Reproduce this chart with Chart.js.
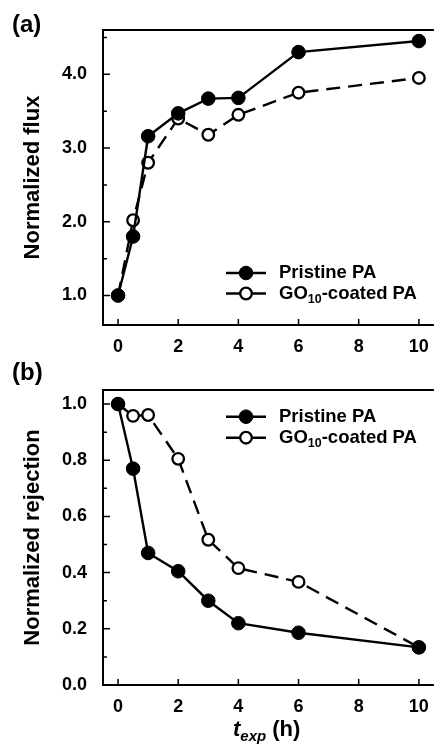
<!DOCTYPE html>
<html><head><meta charset="utf-8">
<script src="https://cdn.jsdelivr.net/npm/chart.js@4.4.1/dist/chart.umd.min.js"></script>
<style>
html,body{margin:0;padding:0;background:#fff;overflow:hidden;width:440px;height:748px}
#wa{position:absolute;left:0;top:0;width:442px;height:355px}
#wb{position:absolute;left:0;top:355px;width:442px;height:393px}
</style></head><body>
<div id="wa"><canvas id="ca"></canvas></div>
<div id="wb"><canvas id="cb"></canvas></div>
<script>
// ---- data ----
const timeH        = [0, 0.5, 1, 2, 3, 4, 6, 10];
const fluxPristine = [1.00, 1.80, 3.16, 3.47, 3.67, 3.68, 4.30, 4.45];
const fluxGO       = [1.00, 2.02, 2.80, 3.40, 3.18, 3.45, 3.75, 3.95];
const rejPristine  = [1.00, 0.77, 0.47, 0.405, 0.30, 0.22, 0.186, 0.134];
const rejGO        = [1.00, 0.958, 0.961, 0.805, 0.517, 0.416, 0.367, 0.134];
const xTicks       = [0, 2, 4, 6, 8, 10];
const yTicksFlux   = [1, 2, 3, 4];
const yMinorFlux   = [1.5, 2.5, 3.5, 4.5];
const yTicksRej    = [0, 0.2, 0.4, 0.6, 0.8, 1.0];
const yMinorRej    = [0.1, 0.3, 0.5, 0.7, 0.9];
const seriesNames  = ['Pristine PA', 'GO_{10}-coated PA'];
const yTitleFlux   = 'Normalized flux';
const yTitleRej    = 'Normalized rejection';
const xTitle       = 't_{exp} (h)';

const FONT = 'Arial, "Liberation Sans", sans-serif';

function richParts(text){
  const parts = []; const re = /_\{([^}]*)\}/g; let last = 0, m;
  while ((m = re.exec(text))){ if (m.index > last) parts.push([text.slice(last, m.index), false]); parts.push([m[1], true]); last = re.lastIndex; }
  if (last < text.length) parts.push([text.slice(last), false]);
  return parts;
}
function drawRich(ctx, text, x, y, mainFont, subFont, subDrop, firstFont){
  let cx = x;
  richParts(text).forEach(([s, sub], i) => {
    ctx.font = sub ? subFont : (i === 0 && firstFont ? firstFont : mainFont);
    ctx.fillText(s, cx, y + (sub ? subDrop : 0));
    cx += ctx.measureText(s).width;
  });
}

function makeChart(id, opt){
  const ds = (vals, open) => ({
    data: timeH.map((t, i) => ({x: t, y: vals[i]})),
    borderColor: '#000', backgroundColor: open ? '#fff' : '#000',
    borderWidth: 2.4, borderDash: open ? [14, 8] : [],
    pointRadius: open ? 5.8 : 6.8, pointBorderWidth: open ? 2.3 : 1,
    pointBackgroundColor: open ? '#fff' : '#000', pointBorderColor: '#000',
    tension: 0, clip: false
  });
  const framePlugin = {
    id: 'frame',
    afterDraw(chart){
      const ctx = chart.ctx, a = chart.chartArea, xs = chart.scales.x, ys = chart.scales.y;
      ctx.save();
      ctx.strokeStyle = '#000'; ctx.lineWidth = 2;
      ctx.beginPath();
      ctx.moveTo(a.right, a.top); ctx.lineTo(a.left, a.top); ctx.lineTo(a.left, a.bottom); ctx.lineTo(a.right, a.bottom);
      ctx.stroke();
      ctx.lineWidth = 1.5;
      ctx.beginPath();
      xTicks.forEach(v => { const p = xs.getPixelForValue(v); ctx.moveTo(p, a.bottom); ctx.lineTo(p, a.bottom - 6); });
      opt.yMajor.forEach(v => { const p = ys.getPixelForValue(v); ctx.moveTo(a.left, p); ctx.lineTo(a.left + 7, p); });
      opt.yMinor.forEach(v => { const p = ys.getPixelForValue(v); ctx.moveTo(a.left, p); ctx.lineTo(a.left + 4, p); });
      ctx.stroke();
      // panel label
      ctx.fillStyle = '#000';
      ctx.textBaseline = 'alphabetic'; ctx.textAlign = 'left';
      ctx.font = 'bold 24px ' + FONT;
      ctx.fillText(opt.panel, 12, opt.panelY);
      // y title
      ctx.save();
      ctx.translate(39, (a.top + a.bottom) / 2);
      ctx.rotate(-Math.PI / 2);
      ctx.textAlign = 'center';
      ctx.font = 'bold 22px ' + FONT;
      ctx.fillText(opt.yTitle, 0, 0);
      ctx.restore();
      // x title
      if (opt.xTitle){
        ctx.textAlign = 'left';
        drawRich(ctx, opt.xTitle, 233, opt.xTitleY, 'bold 22px ' + FONT, 'italic bold 15px ' + FONT, 5, 'italic bold 22px ' + FONT);
      }
      // legend
      chart.data.datasets.forEach((d, i) => {
        const ly = opt.legendY[i];
        ctx.setLineDash([]); ctx.lineWidth = 2.4; ctx.strokeStyle = '#000';
        ctx.beginPath(); ctx.moveTo(226, ly); ctx.lineTo(266, ly); ctx.stroke();
        ctx.beginPath(); ctx.arc(246, ly, d.pointRadius, 0, Math.PI * 2);
        ctx.fillStyle = d.pointBackgroundColor; ctx.fill();
        ctx.lineWidth = d.pointBorderWidth; ctx.stroke();
        ctx.fillStyle = '#000'; ctx.textBaseline = 'middle'; ctx.textAlign = 'left';
        drawRich(ctx, seriesNames[i], 279, ly, 'bold 18.5px ' + FONT, 'bold 12.5px ' + FONT, 6);
      });
      ctx.restore();
    }
  };
  return new Chart(document.getElementById(id), {
    type: 'line',
    data: { datasets: [ds(opt.p, false), ds(opt.g, true)] },
    options: {
      responsive: true, maintainAspectRatio: false, animation: false,
      layout: { padding: { top: opt.padTop, right: 1.6, left: 0, bottom: 0 } },
      plugins: { legend: { display: false }, tooltip: { enabled: false } },
      scales: {
        x: {
          type: 'linear', min: -0.5, max: 10.5,
          afterBuildTicks: s => { s.ticks = xTicks.map(v => ({ value: v })); },
          afterFit: s => { s.height = opt.xH; },
          ticks: { color: '#000', font: { family: FONT, size: 18, weight: 'bold' }, padding: 11, maxRotation: 0, autoSkip: false },
          grid: { display: false, drawTicks: false }, border: { display: false }
        },
        y: {
          type: 'linear', min: opt.ymin, max: opt.ymax,
          afterBuildTicks: s => { s.ticks = opt.yMajor.map(v => ({ value: v })); },
          afterFit: s => { s.width = 103; },
          ticks: { color: '#000', font: { family: FONT, size: 18, weight: 'bold' }, padding: 16, callback: v => v.toFixed(1) },
          grid: { display: false, drawTicks: false }, border: { display: false }
        }
      }
    },
    plugins: [framePlugin]
  });
}

makeChart('ca', { p: fluxPristine, g: fluxGO, ymin: 0.6, ymax: 4.6, yMajor: yTicksFlux, yMinor: yMinorFlux,
  padTop: 30, xH: 30, panel: '(a)', panelY: 32, yTitle: yTitleFlux, xTitle: null, legendY: [273, 293.5] });
makeChart('cb', { p: rejPristine, g: rejGO, ymin: 0, ymax: 1.05, yMajor: yTicksRej, yMinor: yMinorRej,
  padTop: 35, xH: 63, panel: '(b)', panelY: 25, yTitle: yTitleRej, xTitle: xTitle, xTitleY: 381, legendY: [61.7, 82.7] });
</script>
</body></html>
